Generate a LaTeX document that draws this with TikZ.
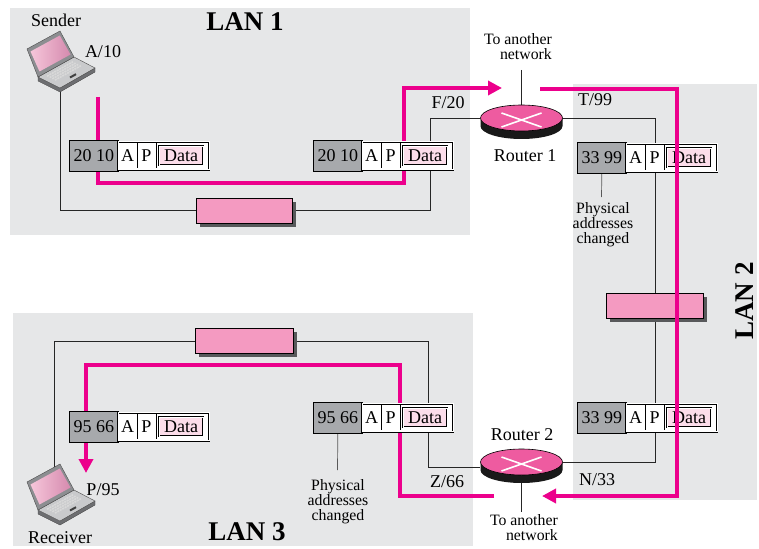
\documentclass[tikz,border=0pt]{standalone}
\usepackage{fontspec}
\setmainfont{Liberation Serif}
\usetikzlibrary{arrows.meta,calc,shadows,shapes.geometric}
\pgfdeclarelayer{back}
\pgfdeclarelayer{wires}
\pgfdeclarelayer{front}
\pgfsetlayers{back,wires,main,front}
\definecolor{bg}{HTML}{E6E7E8}
\definecolor{hdrgray}{HTML}{A7A9AC}
\definecolor{mag}{HTML}{EC008C}
\definecolor{hubpink}{HTML}{F49AC1}
\definecolor{rtpink}{HTML}{EE5BA0}
\definecolor{datapink}{HTML}{FCDDEA}
\definecolor{shadowgray}{HTML}{58595B}
\definecolor{lapframe}{HTML}{8C8E91}
\definecolor{lapbase}{HTML}{C9CACC}
\definecolor{lapdark}{HTML}{6D6E71}
\definecolor{scrA}{HTML}{F6C6DA}
\definecolor{scrB}{HTML}{D58AAE}
\tikzset{
  lbl/.style={font=\fontsize{18}{20}\selectfont, inner sep=0pt},
  note/.style={font=\fontsize{15.8}{15}\selectfont, inner sep=0pt, align=center},
  lan/.style={font=\fontsize{27}{30}\selectfont\bfseries, inner sep=0pt},
  wire/.style={draw=black!85, line width=0.7pt},
  ptr/.style={draw=black!65, line width=0.7pt},
  route/.style={draw=mag, line width=4pt},
  routearrow/.style={route, -{Triangle[length=14pt,width=14pt]}},
  hub/.style={draw=black, line width=0.7pt, fill=hubpink, minimum height=25pt,
    inner sep=0pt, drop shadow={shadow xshift=3.5pt, shadow yshift=-3.5pt, fill=shadowgray, opacity=1}},
  hdrbox/.style={draw=black, line width=0.6pt, fill=hdrgray, minimum width=49pt,
    minimum height=31pt, inner sep=0pt, anchor=north west, font=\fontsize{18}{20}\selectfont},
  bodybox/.style={draw=black, double=white, double distance=1.2pt, line width=0.5pt,
    fill=white, minimum width=91pt, minimum height=28pt, inner sep=0pt, anchor=north west},
  cell/.style={font=\fontsize{18}{20}\selectfont, inner sep=0pt},
  databox/.style={draw=black, double=white, double distance=0.9pt, line width=0.45pt,
    fill=datapink, minimum width=44pt, minimum height=19pt, inner sep=0pt,
    font=\fontsize{18}{20}\selectfont},
  router/.style={ellipse, draw=black, line width=0.6pt, fill=rtpink,
    minimum width=82pt, minimum height=26pt, inner sep=0pt},
}
\newcommand{\pkt}[4]{%
  \node[hdrbox] (#1h) at (#2,#3) {#4};
  \node[bodybox] (#1b) at (#2+49,#3+1.5) {};
  \draw[line width=0.5pt] (#2+68,#3+3.2) -- (#2+68,#3+27.8) (#2+87,#3+3.2) -- (#2+87,#3+27.8);
  \node[cell] (#1a) at (#2+58.5,#3+15.5) {A};
  \node[cell] (#1p) at (#2+77.5,#3+15.5) {P};
  \node[databox] (#1d) at (#2+112,#3+15.5) {Data};
}
\newcommand{\rtr}[3]{%
  \fill[black!90] (#2-41,#3) -- (#2-41,#3+8) arc[start angle=180,end angle=0,x radius=41,y radius=13] -- (#2+41,#3) -- cycle;
  \node[router] (#1) at (#2,#3) {};
  \draw[white, line width=1.6pt] (#2-20,#3-5) -- (#2+20,#3+9) (#2-20,#3+9) -- (#2+20,#3-5);
}
\newcommand{\laptop}[1]{%
  \begin{scope}[shift={(0,#1)}]
    \filldraw[fill=lapdark, draw=black!70, line width=0.4pt] (38,77) -- (60,88) -- (95,68) -- (95,72) -- (60,92) -- (38,81) -- cycle;
    \filldraw[fill=lapbase, draw=black!70, line width=0.4pt] (38,77) -- (74,57) -- (95,68) -- (60,88) -- cycle;
    \foreach \v in {0.18,0.3,0.42,0.54}{
      \draw[white!85!black, line width=1.6pt, dash pattern=on 2pt off 0.8pt]
        ($(38,77)+0.14*(36,-20)+\v*(22,11)$) -- ($(38,77)+0.86*(36,-20)+\v*(22,11)$);
    }
    \draw[black!75, line width=2pt] (70,77.5) -- (76,74.2);
    \filldraw[fill=lapframe, draw=black!70, line width=0.4pt] (38,77) -- (74,57) -- (60,31) -- (27,49) -- cycle;
    \shade[left color=scrA, right color=scrB] (39.5,71.5) -- (70.5,54.5) -- (59.8,35.5) -- (30.5,51.5) -- cycle;
  \end{scope}
}
\begin{document}
\begin{tikzpicture}[x=1pt,y=-1pt]
\useasboundingbox (0,0) rectangle (759,548);
\begin{pgfonlayer}{back}
  \fill[bg] (10,8) rectangle (470,235);
  \fill[bg] (573,84) rectangle (757,500);
  \fill[bg] (13,313) rectangle (473,546);
\end{pgfonlayer}

% hubs
\node[hub, minimum width=96pt] (h1) at (244,210.5) {};
\node[hub, minimum width=97pt] (h2) at (655,305.5) {};
\node[hub, minimum width=98pt] (h3) at (244,341) {};

% routers
\rtr{r1}{521.5}{118}
\rtr{r2}{521.5}{462}

% packets
\pkt{pa}{69}{140}{20 10}
\pkt{pb}{313}{140}{20 10}
\pkt{pc}{577}{142}{33 99}
\pkt{pd}{577}{402}{33 99}
\pkt{pe}{69}{411}{95 66}
\pkt{pf}{313}{402}{95 66}

% laptops
\laptop{0}
\laptop{433}

% coordinates
\coordinate (snd) at (60,90);
\coordinate (rcv) at (54,468);
\coordinate (c1) at (430,118);
\coordinate (c3) at (428,467);
\coordinate (a1) at (521.5,70);
\coordinate (a2s) at (521.5,483);
\coordinate (a2) at (521.5,512);
\coordinate (q1) at (601.5,197);
\coordinate (q2) at (337.5,470);
\coordinate (s1) at (98,97);
\coordinate (s1a) at (98,183);
\coordinate (s1b) at (404,183);
\coordinate (s1c) at (404,88);
\coordinate (e1) at (502,88);
\coordinate (s2) at (540,89);
\coordinate (s2a) at (677,89);
\coordinate (s2b) at (677,496);
\coordinate (e2) at (542,496);
\coordinate (s3) at (494,496);
\coordinate (s3a) at (400,496);
\coordinate (s3b) at (400,365);
\coordinate (s3c) at (86,365);
\coordinate (e3) at (86,473);

\begin{pgfonlayer}{wires}
  \draw[wire] (snd) |- (h1.west);
  \draw[wire] (h1.east) -| (c1) -- (r1.west);
  \draw[wire] (r1.east) -| (h2.north);
  \draw[wire] (h2.south) |- (r2.east);
  \draw[wire] (h3.east) -| (c3) -- (c3 -| r2.west);
  \draw[wire] (h3.west) -| (rcv);
  \draw[wire] (a1) -- (r1.north);
  \draw[wire] (a2s) -- (a2);
  \draw[ptr] (pch.south) -- (q1);
  \draw[ptr] (pfh.south) -- (q2);
  \draw[routearrow] (s1) -- (s1a) -- (s1b) -- (s1c) -- (e1);
  \draw[routearrow] (s3) -- (s3a) -- (s3b) -- (s3c) -- (e3);
\end{pgfonlayer}
\begin{pgfonlayer}{front}
  \draw[routearrow] (s2) -- (s2a) -- (s2b) -- (e2);
\end{pgfonlayer}

% labels
\node[lbl] (tsender) at (56,20) {Sender};
\node[lbl] (ta10) at (103,52) {A/10};
\node[lan] (lan1) at (245,22) {LAN 1};
\node[lbl] (tf20) at (448,103) {F/20};
\node[lbl] (tt99) at (595,100) {T/99};
\node[lbl] (trt1) at (525,156) {Router 1};
\node[note, align=right, anchor=east] (tan1) at (552,46.5) {To another\\network};
\node[note] (tpc1) at (603,225) {Physical\\addresses\\changed};
\node[lan, rotate=90] (lan2) at (745,301) {LAN 2};
\node[lbl] (trt2) at (522,435) {Router 2};
\node[lbl] (tn33) at (597,480) {N/33};
\node[lbl] (tz66) at (447,482) {Z/66};
\node[note, align=right, anchor=east] (tan2) at (558,527.5) {To another\\network};
\node[note] (tpc2) at (338,502) {Physical\\addresses\\changed};
\node[lbl] (tp95) at (103,490) {P/95};
\node[lbl] (trcv) at (60,538) {Receiver};
\node[lan] (lan3) at (247,532) {LAN 3};
\end{tikzpicture}
\end{document}
